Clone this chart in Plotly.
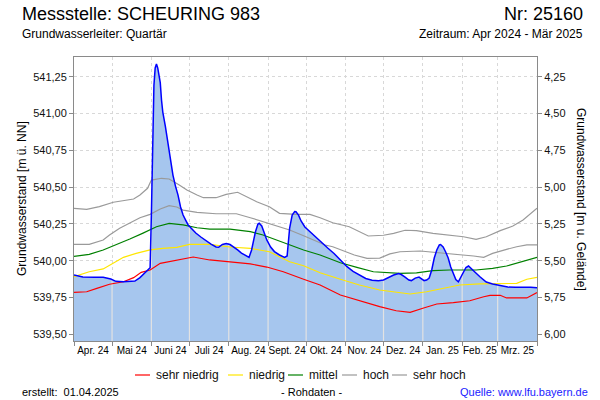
import numpy as np
import pandas as pd
import plotly.graph_objects as go

# ---------------- data ----------------
start_date = "2024-04-01"
end_date = "2025-04-01"
month_labels = ["Apr. 24", "Mai 24", "Juni 24", "Juli 24", "Aug. 24", "Sept. 24",
                "Okt. 24", "Nov. 24", "Dez. 24", "Jan. 25", "Feb. 25", "Mrz. 25"]

level_ticks = [539.50, 539.75, 540.00, 540.25, 540.50, 540.75, 541.00, 541.25]
ground_level = 545.50  # m ü. NN (Gelände)
depth_ticks = [4.25, 4.50, 4.75, 5.00, 5.25, 5.50, 5.75, 6.00]

# day offsets from 2024-04-01 and levels [m ü. NN]
sehr_hoch_days = [0, 10, 20, 31, 47, 52, 58, 61, 69, 75, 83, 89, 97, 102, 112, 120, 129, 136, 144,
                  154, 162, 175, 186, 194, 204, 217, 225, 232, 244, 252, 261, 270, 283, 296, 307,
                  317, 325, 336, 346, 354, 362, 365]
sehr_hoch_values = [540.356, 540.349, 540.367, 540.397, 540.419, 540.446, 540.492, 540.548, 540.560,
                    540.555, 540.514, 540.480, 540.446, 540.428, 540.428, 540.451, 540.465, 540.435,
                    540.401, 540.367, 540.322, 540.315, 540.315, 540.292, 540.258, 540.231, 540.197,
                    540.168, 540.173, 540.186, 540.207, 540.204, 540.186, 540.175, 540.163, 540.145,
                    540.163, 540.204, 540.236, 540.276, 540.333, 540.356]

hoch_days = [0, 12, 23, 28, 36, 44, 52, 60, 68, 75, 81, 86, 97, 112, 128, 139, 149, 160, 170, 181,
             191, 198, 204, 217, 221, 231, 241, 249, 257, 273, 288, 302, 315, 323, 330, 341, 349,
             357, 365]
hoch_values = [540.111, 540.111, 540.141, 540.175, 540.220, 540.254, 540.292, 540.315, 540.351,
               540.374, 540.365, 540.344, 540.329, 540.319, 540.319, 540.292, 540.265, 540.238,
               540.209, 540.170, 540.136, 540.107, 540.095, 540.050, 540.039, 540.016, 540.018,
               540.046, 540.061, 540.066, 540.054, 540.046, 540.032, 540.023, 540.050, 540.077,
               540.095, 540.107, 540.107]

mittel_days = [0, 12, 23, 33, 44, 54, 65, 75, 86, 97, 107, 123, 139, 149, 160, 170, 181, 194, 210,
               223, 236, 257, 270, 283, 296, 317, 330, 341, 352, 365]
mittel_values = [540.030, 540.043, 540.073, 540.107, 540.147, 540.186, 540.231, 540.254, 540.243,
                 540.224, 540.215, 540.215, 540.197, 540.175, 540.141, 540.105, 540.073, 540.039,
                 539.986, 539.955, 539.925, 539.914, 539.918, 539.932, 539.937, 539.937, 539.948,
                 539.964, 539.993, 540.023]

niedrig_days = [0, 12, 23, 31, 39, 49, 60, 70, 81, 91, 107, 123, 139, 154, 170, 181, 194, 210, 225,
                241, 257, 265, 278, 291, 304, 320, 336, 349, 357, 365]
niedrig_values = [539.891, 539.925, 539.944, 539.982, 540.023, 540.050, 540.073, 540.084, 540.091,
                  540.111, 540.111, 540.093, 540.084, 540.061, 539.993, 539.966, 539.918, 539.874,
                  539.835, 539.801, 539.783, 539.774, 539.789, 539.812, 539.835, 539.842, 539.842,
                  539.846, 539.874, 539.887]

sehr_niedrig_days = [0, 10, 18, 28, 39, 47, 53, 60, 68, 75, 86, 94, 107, 123, 139, 152, 165, 181,
                     194, 210, 225, 241, 254, 265, 275, 286, 299, 312, 323, 328, 336, 341, 357, 365]
sehr_niedrig_values = [539.785, 539.789, 539.812, 539.840, 539.857, 539.885, 539.921, 539.937,
                       539.982, 539.993, 540.012, 540.025, 540.005, 539.989, 539.978, 539.957,
                       539.925, 539.874, 539.835, 539.767, 539.728, 539.688, 539.660, 539.649,
                       539.677, 539.706, 539.715, 539.728, 539.755, 539.765, 539.765, 539.747,
                       539.747, 539.783]

messwerte_days = [0, 7, 16, 23, 29, 33, 39, 44, 48, 52, 56, 60, 61, 62, 63, 64, 65, 66, 67, 68, 69,
                  70, 72, 74, 76, 78, 80, 82, 84, 86, 88, 90, 93, 96, 100, 104, 108, 112, 114, 117,
                  120, 123, 126, 129, 132, 135, 138, 140, 141, 143, 145, 146, 148, 150, 152, 155,
                  158, 162, 166, 168, 169, 170, 172, 174, 175, 177, 179, 182, 185, 188, 192, 196,
                  200, 205, 210, 215, 220, 225, 230, 235, 240, 244, 248, 252, 256, 258, 261, 264,
                  266, 269, 272, 274, 276, 278, 280, 282, 284, 286, 288, 289, 291, 293, 295, 297,
                  299, 301, 303, 305, 307, 309, 311, 313, 316, 320, 325, 330, 336, 342, 348, 355,
                  360, 365]
messwerte_values = [539.903, 539.889, 539.888, 539.888, 539.876, 539.860, 539.857, 539.858, 539.862,
                    539.885, 539.918, 539.952, 540.310, 540.650, 541.190, 541.310, 541.336, 541.310,
                    541.260, 541.210, 541.090, 541.010, 540.915, 540.800, 540.684, 540.582, 540.507,
                    540.446, 540.365, 540.310, 540.276, 540.243, 540.215, 540.188, 540.161, 540.134,
                    540.113, 540.093, 540.091, 540.110, 540.117, 540.110, 540.093, 540.073, 540.052,
                    540.035, 540.023, 540.073, 540.113, 540.195, 540.249, 540.254, 540.236, 540.188,
                    540.141, 540.093, 540.062, 540.039, 540.023, 540.032, 540.107, 540.222, 540.310,
                    540.334, 540.333, 540.310, 540.270, 540.229, 540.205, 540.181, 540.147, 540.113,
                    540.086, 540.049, 540.005, 539.961, 539.927, 539.903, 539.879, 539.867, 539.864,
                    539.869, 539.886, 539.903, 539.913, 539.906, 539.889, 539.869, 539.865, 539.882,
                    539.889, 539.879, 539.865, 539.869, 539.882, 539.937, 540.018, 540.073, 540.107,
                    540.110, 540.093, 540.059, 540.018, 539.957, 539.910, 539.872, 539.857, 539.889,
                    539.930, 539.954, 539.964, 539.950, 539.923, 539.891, 539.855, 539.842, 539.832,
                    539.821, 539.819, 539.821, 539.819, 539.817]

legend_names = ["sehr niedrig", "niedrig", "mittel", "hoch", "sehr hoch"]
legend_colors = ["#ff0000", "#ffe600", "#008000", "#9a9a9a", "#9a9a9a"]

# ---------------- helpers ----------------
t0 = pd.Timestamp(start_date)
def to_dates(days):
    return [t0 + pd.Timedelta(days=int(d)) for d in days]

W, H = 600, 400
L, R, T, B = 74, 63, 57, 59
PW, PH = W - L - R, H - T - B
def px(x):
    return (x - L) / PW
def py(y):
    return (H - B - y) / PH

y_lo, y_hi = 539.4545, 541.384
FONT = "Liberation Sans, Arial, sans-serif"

fig = go.Figure()

meas_dates = to_dates(messwerte_days)
# filled area
fig.add_trace(go.Scatter(x=meas_dates, y=messwerte_values, mode="lines", fill="tozeroy",
                         fillcolor="#a6c6ee", line=dict(width=0, color="#a6c6ee"),
                         showlegend=False, hoverinfo="skip"))

# light vertical grid segments inside the filled area
month_starts = pd.date_range(start_date, end_date, freq="MS")
gx, gy = [], []
for ms in month_starts[1:-1]:
    d = (ms - t0).days
    top = float(np.interp(d, messwerte_days, messwerte_values))
    gx += [ms, ms, None]
    gy += [y_lo, top, None]
fig.add_trace(go.Scatter(x=gx, y=gy, mode="lines", line=dict(color="#e2e2e2", width=1.2),
                         showlegend=False, hoverinfo="skip"))

series = [
    (sehr_niedrig_days, sehr_niedrig_values),
    (niedrig_days, niedrig_values),
    (mittel_days, mittel_values),
    (hoch_days, hoch_values),
    (sehr_hoch_days, sehr_hoch_values),
]
for (dd, vv), name, col in zip(series, legend_names, legend_colors):
    fig.add_trace(go.Scatter(x=to_dates(dd), y=vv, mode="lines", name=name,
                             line=dict(color=col, width=1.2, shape="linear"),
                             showlegend=False))

fig.add_trace(go.Scatter(x=meas_dates, y=messwerte_values, mode="lines", name="Messwerte",
                         line=dict(color="#0000ff", width=1.5), showlegend=False))

# invisible trace on the depth axis
fig.add_trace(go.Scatter(x=meas_dates, y=[ground_level - v for v in messwerte_values],
                         yaxis="y2", mode="lines", line=dict(width=0), opacity=0,
                         showlegend=False, hoverinfo="skip"))

mids = [month_starts[i] + (month_starts[i + 1] - month_starts[i]) / 2 for i in range(12)]

axis_col = "#8a8a8a"
grid_col = "#d8d8d8"
fig.update_layout(
    width=W, height=H, margin=dict(l=L, r=R, t=T, b=B),
    paper_bgcolor="white", plot_bgcolor="white",
    separators=",.",
    font=dict(family=FONT, size=11, color="#000"),
    showlegend=False,
    xaxis=dict(type="date", range=[start_date, end_date], tickvals=mids, ticktext=month_labels,
               ticks="", showgrid=False, zeroline=False,
               showline=True, linecolor=axis_col, linewidth=1, mirror=True,
               tickfont=dict(size=10, color="#000"),
               minor=dict(tick0=start_date, dtick="M1", ticks="outside", ticklen=4,
                          tickcolor=axis_col, showgrid=True, gridcolor=grid_col,
                          griddash="3px,3px", gridwidth=1)),
    yaxis=dict(range=[y_lo, y_hi], tickvals=level_ticks, tickformat=".2f",
               ticks="outside", ticklen=4, tickcolor=axis_col,
               showline=True, linecolor=axis_col, linewidth=1,
               showgrid=True, gridcolor=grid_col, griddash="3px,3px", zeroline=False,
               tickfont=dict(size=11, color="#111")),
    yaxis2=dict(overlaying="y", side="right", range=[ground_level - y_lo, ground_level - y_hi],
                tickvals=depth_ticks, tickformat=".2f", ticks="outside", ticklen=4,
                tickcolor=axis_col, showline=True, linecolor=axis_col, linewidth=1,
                showgrid=False, zeroline=False, tickfont=dict(size=11, color="#111")),
)

ann = []
def text(x, y, s, size, anchor="left", color="#000", angle=0):
    ann.append(dict(x=px(x), y=py(y), xref="paper", yref="paper", text=s, showarrow=False,
                    xanchor=anchor, yanchor="middle", textangle=angle,
                    font=dict(family=FONT, size=size, color=color)))

text(20, 14, "Messstelle: SCHEURING 983", 18)
text(585, 14, "Nr: 25160", 18, anchor="right")
text(20, 34, "Grundwasserleiter: Quartär", 12)
text(585, 34, "Zeitraum: Apr 2024 - Mär 2025", 12, anchor="right")
text(22, 199, "Grundwasserstand [m ü. NN]", 12, anchor="center", angle=-90)
text(581, 199, "Grundwasserstand [m u. Gelände]", 12, anchor="center", angle=90)
text(20, 392, "erstellt:\u00a0 01.04.2025", 11)
text(311, 392, "- Rohdaten -", 11, anchor="center")
text(590, 392, "Quelle: www.lfu.bayern.de", 11, anchor="right", color="#1a1aff")

# legend (line sample + label)
legend_line_x = [135, 228, 288, 342, 392]
shapes = []
for lx, name, col in zip(legend_line_x, legend_names, legend_colors):
    shapes.append(dict(type="line", xref="paper", yref="paper", x0=px(lx), x1=px(lx + 15),
                       y0=py(375), y1=py(375), line=dict(color=col, width=1.2)))
    text(lx + 19, 375, name, 12, color="#111")

fig.update_layout(annotations=ann, shapes=shapes)
fig.write_html("out.html", config={"displayModeBar": False},
               post_script="document.body.style.margin='0';document.body.style.overflow='hidden';")
